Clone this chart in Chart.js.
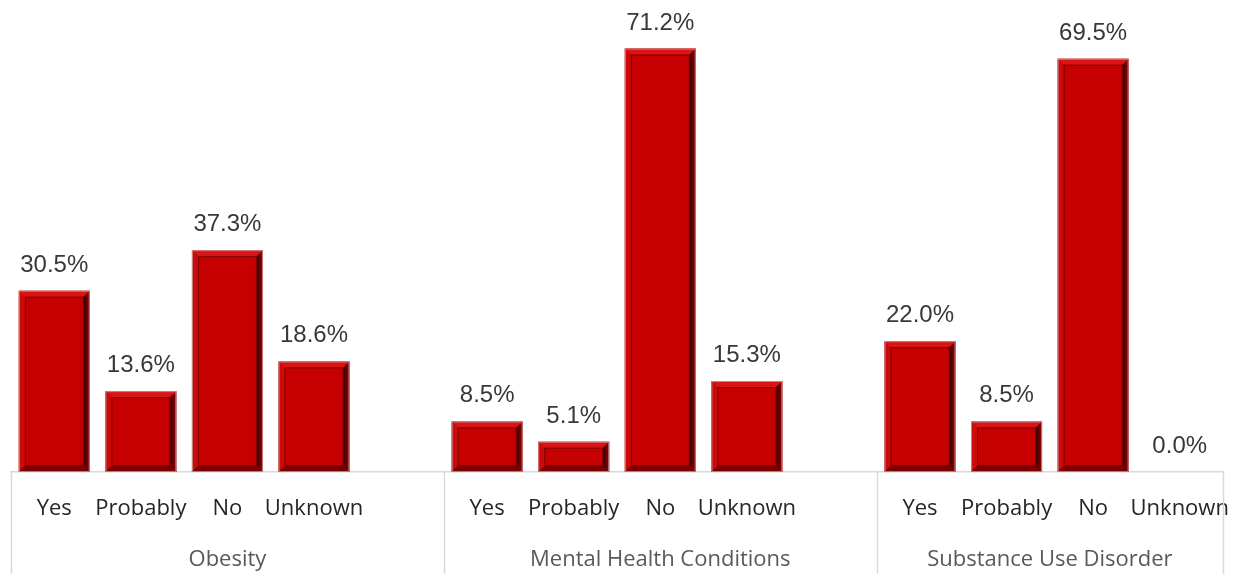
<!DOCTYPE html>
<html>
<head>
<meta charset="utf-8">
<script src="https://cdn.jsdelivr.net/npm/chart.js@4/dist/chart.umd.min.js"></script>
<style>
  html, body { margin: 0; padding: 0; background: #ffffff; }
  #wrap { width: 1239px; height: 574px; }
</style>
</head>
<body>
<div id="wrap"><canvas id="c" width="1239" height="574"></canvas></div>
<script>
// ---- data ----
const groups = ["Obesity", "Mental Health Conditions", "Substance Use Disorder"];
const answers = ["Yes", "Probably", "No", "Unknown"];
const obesity = [30.5, 13.6, 37.3, 18.6];
const mentalHealth = [8.5, 5.1, 71.2, 15.3];
const substanceUse = [22.0, 8.5, 69.5, 0.0];

// build the category axis: 4 answers per group plus one empty slot between groups
const seriesByGroup = [obesity, mentalHealth, substanceUse];
const labels = [];
const values = [];
seriesByGroup.forEach((arr, g) => {
  answers.forEach((a, i) => { labels.push(a); values.push(arr[i]); });
  if (g < seriesByGroup.length - 1) { labels.push(""); values.push(null); }
});

const bevelPlugin = {
  id: 'bevel',
  afterDatasetsDraw(chart) {
    const ctx = chart.ctx;
    const meta = chart.getDatasetMeta(0);
    meta.data.forEach((bar, i) => {
      if (values[i] === null || values[i] <= 0) return;
      const p = bar.getProps(['x', 'y', 'base', 'width'], true);
      const x0 = p.x - p.width / 2, x1 = p.x + p.width / 2;
      const y0 = Math.min(p.y, p.base), y1 = Math.max(p.y, p.base);
      const b = Math.min(6, (y1 - y0) / 2);
      ctx.save();
      // top band
      ctx.fillStyle = '#d81414';
      ctx.beginPath(); ctx.moveTo(x0, y0); ctx.lineTo(x1, y0); ctx.lineTo(x1 - b, y0 + b); ctx.lineTo(x0 + b, y0 + b); ctx.closePath(); ctx.fill();
      // left band
      ctx.fillStyle = '#cd0a0a';
      ctx.beginPath(); ctx.moveTo(x0, y0); ctx.lineTo(x0 + b, y0 + b); ctx.lineTo(x0 + b, y1 - b); ctx.lineTo(x0, y1); ctx.closePath(); ctx.fill();
      // right band
      const gr = ctx.createLinearGradient(x1 - b, 0, x1, 0);
      gr.addColorStop(0, '#2e0000'); gr.addColorStop(0.5, '#6a0000'); gr.addColorStop(1, '#a00000');
      ctx.fillStyle = gr;
      ctx.beginPath(); ctx.moveTo(x1, y0); ctx.lineTo(x1, y1); ctx.lineTo(x1 - b, y1 - b); ctx.lineTo(x1 - b, y0 + b); ctx.closePath(); ctx.fill();
      // bottom band
      ctx.fillStyle = '#7a0000';
      ctx.beginPath(); ctx.moveTo(x0, y1); ctx.lineTo(x1, y1); ctx.lineTo(x1 - b, y1 - b); ctx.lineTo(x0 + b, y1 - b); ctx.closePath(); ctx.fill();
      // inner groove line
      ctx.strokeStyle = 'rgba(80,0,0,0.6)';
      ctx.lineWidth = 1;
      ctx.strokeRect(x0 + b + 0.5, y0 + b + 0.5, x1 - x0 - 2 * b - 1, y1 - y0 - 2 * b - 1);
      // outer light edge
      ctx.strokeStyle = 'rgba(200,170,170,0.75)';
      ctx.strokeRect(x0 + 0.5, y0 + 0.5, x1 - x0 - 1, y1 - y0 - 1);
      ctx.restore();
    });
  },
  afterDraw(chart) {
    const ctx = chart.ctx;
    const meta = chart.getDatasetMeta(0);
    const xs = chart.scales.x;
    const area = chart.chartArea;
    // value labels
    ctx.save();
    ctx.font = '24px "Liberation Sans", Arial, sans-serif';
    ctx.fillStyle = '#383838';
    ctx.textAlign = 'center';
    ctx.textBaseline = 'alphabetic';
    meta.data.forEach((bar, i) => {
      if (values[i] === null) return;
      const p = bar.getProps(['x', 'y'], true);
      ctx.fillText(values[i].toFixed(1) + '%', p.x, p.y - 19);
    });
    ctx.restore();
    // axis box lines
    const step = xs.getPixelForTick(1) - xs.getPixelForTick(0);
    const bounds = [xs.left];
    labels.forEach((l, i) => { if (l === "") bounds.push(xs.getPixelForTick(i) + step / 2); });
    bounds.push(xs.right);
    ctx.save();
    ctx.strokeStyle = '#d9d9d9';
    ctx.lineWidth = 1.5;
    bounds.forEach(bx => {
      ctx.beginPath(); ctx.moveTo(Math.round(bx) + 0.5, area.bottom); ctx.lineTo(Math.round(bx) + 0.5, chart.height); ctx.stroke();
    });
    // group labels
    ctx.font = '22px "Open Sans", sans-serif';
    ctx.fillStyle = '#595959';
    ctx.textAlign = 'center';
    ctx.textBaseline = 'alphabetic';
    groups.forEach((g, k) => {
      ctx.fillText(g, (bounds[k] + bounds[k + 1]) / 2, 566);
    });
    ctx.restore();
  }
};

new Chart(document.getElementById('c'), {
  type: 'bar',
  data: {
    labels: labels,
    datasets: [{
      data: values,
      backgroundColor: '#c60000',
      borderWidth: 0,
      barPercentage: 0.82,
      categoryPercentage: 1.0
    }]
  },
  options: {
    responsive: false,
    animation: false,
    events: [],
    layout: { padding: { left: 11, right: 16, top: 26, bottom: 0 } },
    plugins: { legend: { display: false }, tooltip: { enabled: false } },
    scales: {
      x: {
        grid: { display: false },
        border: { display: true, color: '#d9d9d9', width: 1.5 },
        ticks: {
          autoSkip: false, maxRotation: 0, minRotation: 0,
          color: '#262626',
          font: { family: '"Open Sans", sans-serif', size: 22 },
          padding: 16
        },
        afterFit(scale) {
          scale.height = 102;
          scale.paddingLeft = 0;
          scale.paddingRight = 0;
        }
      },
      y: {
        display: false,
        min: 0, max: 75
      }
    }
  },
  plugins: [bevelPlugin]
});
</script>
</body>
</html>
